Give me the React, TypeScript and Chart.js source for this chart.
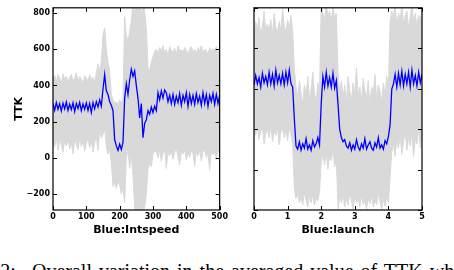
import React, { useEffect, useRef } from 'react';
import { Chart, registerables } from 'chart.js';
Chart.register(...registerables);

// ---------- data ----------
const leftStep = 5; // x spacing of samples (Blue:Intspeed)
const leftMean = [
  300, 262, 305, 268, 298, 258, 302, 270, 308, 262, 296, 266, 304, 255, 300, 272, 306, 260, 298, 268, 303, 262, 300, 250, 305, 270,
  310, 280, 320, 285, 380, 460, 370, 350, 310, 290, 260, 100, 65, 40, 75, 45, 85, 330, 410, 350, 430, 490, 450, 480, 400, 330, 220, 300, 110, 190, 210, 260, 240, 280, 250, 285, 260, 360, 320, 370, 330, 375,
  360, 310, 345, 300, 350, 295, 340, 305, 355, 290, 345, 310, 360, 285, 350, 300, 345, 295, 355, 305, 340, 290, 360, 300, 350, 285, 345, 310, 355, 295, 350, 300, 345,
];
const leftUpper = [
  430, 455, 420, 460, 440, 410, 465, 435, 450, 415, 445, 460, 425, 440, 470, 420, 450, 435, 410, 455, 440, 425, 460, 430, 445, 415,
  470, 520, 480, 530, 680, 720, 600, 530, 480, 350, 320, 300, 310, 290, 320, 300, 330, 780, 680, 640, 700, 760, 850, 800, 850, 810, 850, 790, 850, 810, 720, 500, 480, 530, 560, 590,
  600, 575, 610, 590, 620, 580, 600, 570, 615, 595, 585, 605, 575, 620, 590, 600, 580, 610, 595, 570, 605, 615, 585, 600, 575, 610, 590, 620, 580, 600, 595, 570, 610, 585, 605, 590, 615, 580, 600,
];
const leftLower = [
  90, 60, 110, 40, 100, 70, 30, 95, 65, 105, 50, 85, 20, 100, 75, 45, 110, 60, 90, 35, 80, 105, 55, 95, 30, 85,
  120, 40, 150, 110, 130, 160, 60, 20, 50, -30, -160, -140, -170, -130, -150, -200, -170, -250, 0, 40, -60, 20, -100, -280, -300, -280, -300, -270, -300, -280, -200, -60, -30, -50, 20, 40,
  30, 0, 45, -20, 25, 50, -60, 35, 10, 40, -10, 30, 55, 5, -40, 35, 20, 45, -15, 30, 0, 40, 25, -50, 35, 10, 45, -20, 30, 50, 0, 25, -70, 40, 15, 35, -10, 45, 20,
];

const rightStep = 0.05; // x spacing of samples (Blue:launch)
const rightMean = [
  340, 385, 345, 375, 330, 395, 350, 380, 340, 400, 345, 390, 335, 410, 350, 385, 345, 395, 340, 400, 350, 410, 345, 330,
  180, 50, 35, 70, 30, 60, 40, 85, 35, 55, 30, 75, 45, 60, 90, 55,
  250, 380, 330, 400, 335, 375, 330, 395, 325, 360,
  250, 130, 90, 70, 80, 50,
  40, 65, 30, 55, 35, 80, 45, 30, 60, 40, 85, 35, 55, 70, 40, 30, 65, 45, 90, 40, 55, 35, 75, 60, 95,
  150, 320,
  345, 390, 330, 395, 340, 405, 335, 390, 345, 400, 330, 410, 345, 385, 335, 400, 350, 390,
];
const rightUpper = [
  580, 640, 600, 660, 570, 620, 690, 590, 630, 600, 650, 575, 680, 610, 590, 640, 600, 700, 620, 585, 650, 610, 670, 600,
  420, 330, 280, 360, 300, 250, 340, 290, 380, 270, 320, 400, 300, 260, 350, 310,
  720, 680, 650, 720, 670, 690, 640, 720, 660, 680,
  400, 300, 360, 280, 340, 250, 380, 310, 270, 350, 300, 420, 290, 330, 260, 370, 310, 280, 360, 240, 330, 300, 390, 270, 340, 310, 260, 350, 290, 380, 330,
  640, 690, 660, 720, 620, 680, 650, 720, 630, 670, 690, 610, 660, 720, 640, 680, 620, 670, 650, 690,
];
const rightLower = [
  130, 100, 150, 80, 120, 140, 60, 110, 130, 90, 150, 70, 120, 100, 140, 55, 115, 135, 90, 125, 75, 140, 100, 60,
  -150, -200, -180, -220, -190, -230, -170, -210, -240, -190, -220, -180, -230, -200, -210, -170,
  -30, 10, -40, 20, -60, 0, -20, 30, -50, -10,
  -250, -190, -220, -180, -240, -200, -230, -170, -210, -250, -190, -220, -200, -240, -180, -230, -210, -250, -195, -225, -185, -240, -205, -230, -175, -215, -250, -200, -235, -190, -220,
  -100, 20, 60, 0, 80, 40, 100, 10, 70, 120, 30, 90, 50, 110, 0, 80, 60, 130, 40, 100,
];

const leftTitleX = 'Blue:Intspeed';
const rightTitleX = 'Blue:launch';
const yTitle = 'TTK';
const captionLabel = 'Figure 2:';
const captionText = 'Overall variation in the averaged value of TTK while';

// ---------- styling ----------
const FONT = "'DejaVu Sans', sans-serif";
const BLUE = '#0000ff';
const GRAY = '#d9d9d9';

const frameTicks = {
  id: 'frameTicks',
  afterDraw(chart: any) {
    const { ctx, chartArea: a, scales } = chart;
    ctx.save();
    ctx.strokeStyle = '#000';
    ctx.lineWidth = 1.2;
    ctx.strokeRect(a.left, a.top, a.right - a.left, a.bottom - a.top);
    ctx.lineWidth = 1;
    const len = 4;
    ctx.beginPath();
    for (const t of scales.x.ticks) {
      const px = Math.round(scales.x.getPixelForValue(t.value)) + 0.5;
      ctx.moveTo(px, a.bottom); ctx.lineTo(px, a.bottom - len);
      ctx.moveTo(px, a.top); ctx.lineTo(px, a.top + len);
    }
    for (const t of scales.y.ticks) {
      const py = Math.round(scales.y.getPixelForValue(t.value)) + 0.5;
      ctx.moveTo(a.left, py); ctx.lineTo(a.left + len, py);
      ctx.moveTo(a.right, py); ctx.lineTo(a.right - len, py);
    }
    ctx.stroke();
    ctx.restore();
  },
};

const fmt = (v: number) => (v < 0 ? '\u2212' + Math.abs(v) : String(v));

function buildConfig(opts: any) {
  const { step, mean, upper, lower, xMin, xMax, xStep, yMin, yMax, xTitle, showY, padding, yWidth } = opts;
  const pts = (arr: number[]) => arr.map((v, i) => ({ x: +(i * step).toFixed(4), y: v }));
  return {
    type: 'line',
    data: {
      datasets: [
        { data: pts(mean), borderColor: BLUE, borderWidth: 1.3, pointRadius: 0, fill: false, tension: 0 },
        { data: pts(upper), borderColor: GRAY, backgroundColor: GRAY, borderWidth: 1, pointRadius: 0, fill: '+1', tension: 0 },
        { data: pts(lower), borderColor: GRAY, borderWidth: 1, pointRadius: 0, fill: false, tension: 0 },
      ],
    },
    options: {
      responsive: false,
      animation: false,
      events: [],
      layout: { padding },
      plugins: { legend: { display: false }, tooltip: { enabled: false } },
      scales: {
        x: {
          type: 'linear',
          min: xMin,
          max: xMax,
          grid: { display: false, drawTicks: false },
          border: { display: false },
          ticks: { stepSize: xStep, includeBounds: false, color: '#000', font: { family: FONT, size: 8, weight: 'bold' }, padding: 2, maxRotation: 0, autoSkip: false },
          title: { display: true, text: xTitle, color: '#000', font: { family: FONT, size: 11, weight: 'bold' }, padding: { top: 0, bottom: 3 } },
          afterFit: (s: any) => { s.height = 30; },
        },
        y: {
          type: 'linear',
          min: yMin,
          max: yMax,
          grid: { display: false, drawTicks: false },
          border: { display: false },
          ticks: {
            stepSize: 200,
            includeBounds: false,
            color: '#000',
            font: { family: FONT, size: 8, weight: 'bold' },
            padding: 3,
            callback: (v: number) => (showY ? fmt(v) : ''),
          },
          title: { display: showY, text: yTitle, color: '#000', font: { family: FONT, size: 11, weight: 'bold' }, padding: { top: 12.5, bottom: 0 } },
          afterFit: (s: any) => { s.width = yWidth; },
        },
      },
    },
    plugins: [frameTicks],
  } as any;
}

function Panel({ cfg, left, width, height }: any) {
  const ref = useRef<HTMLCanvasElement>(null);
  useEffect(() => {
    const chart = new Chart(ref.current as HTMLCanvasElement, cfg);
    return () => chart.destroy();
  }, []);
  return (
    <canvas
      ref={ref}
      width={width}
      height={height}
      style={{ position: 'absolute', left, top: 0, width, height }}
    />
  );
}

const captionStyle: any = {
  position: 'absolute', top: 261, whiteSpace: 'nowrap',
  fontFamily: "'Liberation Serif', serif", fontSize: 20, lineHeight: '20px', color: '#000',
};

export default function App() {
  const leftCfg = buildConfig({
    step: leftStep, mean: leftMean, upper: leftUpper, lower: leftLower,
    xMin: 0, xMax: 500, xStep: 100, yMin: -290, yMax: 830,
    xTitle: leftTitleX, showY: true, padding: { left: 0, right: 9, top: 1, bottom: 0 }, yWidth: 53,
  });
  const rightCfg = buildConfig({
    step: rightStep, mean: rightMean, upper: rightUpper, lower: rightLower,
    xMin: 0, xMax: 5, xStep: 1, yMin: -254, yMax: 706,
    xTitle: rightTitleX, showY: false, padding: { left: 0, right: 32, top: 1, bottom: 0 }, yWidth: 24,
  });
  return (
    <div style={{ position: 'fixed', left: 0, top: 0, width: 454, height: 270, overflow: 'hidden', background: '#fff' }}>
      <Panel cfg={leftCfg} left={0} width={230} height={240} />
      <Panel cfg={rightCfg} left={230} width={224} height={240} />
      <div style={{ ...captionStyle, left: -57 }}>{captionLabel}</div>
      <div style={{ ...captionStyle, left: 32, wordSpacing: 2 }}>{captionText}</div>
    </div>
  );
}
